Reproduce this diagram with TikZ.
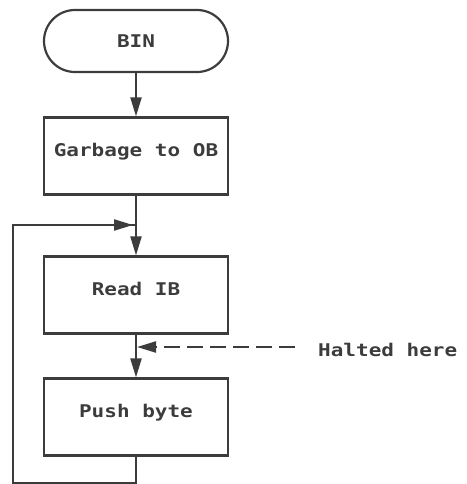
\documentclass[tikz,border=0pt]{standalone}
\usepackage{fontspec}
\usetikzlibrary{arrows.meta,shapes.misc}
\newfontfamily\plotfont[FakeStretch=1.2]{DejaVu Sans Mono}
\definecolor{ink}{HTML}{3C3C3C}
\tikzset{
  flow/.style={draw=ink, line width=2.2pt},
  tip/.style={-{Triangle[length=19pt,width=11pt]}},
  label/.style={text=ink, font=\plotfont\bfseries\fontsize{17.5}{20}\selectfont},
  terminal/.style={flow, label, rounded rectangle, minimum width=184pt, minimum height=62pt, inner sep=0pt},
  stepbox/.style={flow, label, rectangle, minimum width=184pt, minimum height=77pt, inner sep=0pt,
                  text height=13pt, text depth=12pt},
}
\begin{document}
\begin{tikzpicture}[x=1pt, y=-1pt]
  \useasboundingbox (0,0) rectangle (466,484);

  % flowchart steps
  \node[terminal] (bin)  at (136,41)  {BIN};
  \node[stepbox]  (garb) at (136,156) {Garbage to OB};
  \node[stepbox]  (read) at (136,295) {Read IB};
  \node[stepbox]  (push) at (136,417) {Push byte};

  % loop-back path
  \coordinate (join) at (136,225);
  \coordinate (pb)   at (136,483);
  \coordinate (bl)   at (13,483);
  \coordinate (tl)   at (13,225);

  \draw[flow, tip] (bin.south) -- (garb.north);
  \draw[flow, tip] (garb.south) -- (read.north);
  \draw[flow, tip] (read.south) -- (push.north);
  \draw[flow] (push.south) -- (pb) -- (bl) -- (tl) -- (join);
  \draw[flow, tip, shorten >=3pt] (tl) -- (join);

  % halt marker
  \node[label, anchor=west, inner sep=0pt] (halt) at (318,350) {Halted here};
  \coordinate (dstart) at (295,347);
  \coordinate (hit)    at (137,347);
  \draw[flow, tip, dash pattern=on 16pt off 7pt] (dstart) -- (hit);
\end{tikzpicture}
\end{document}
